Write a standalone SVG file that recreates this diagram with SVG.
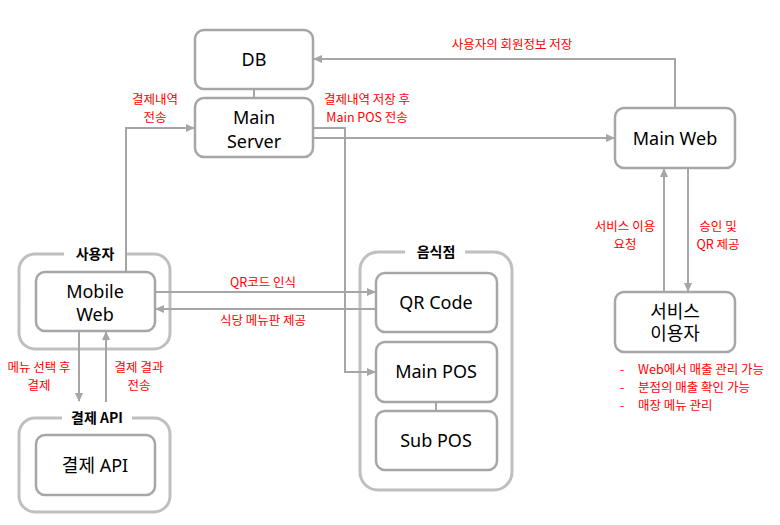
<svg xmlns="http://www.w3.org/2000/svg" width="780" height="525" viewBox="0 0 780 525">
<defs>
<marker id="ah" markerWidth="9" markerHeight="8" refX="8" refY="4" orient="auto" markerUnits="userSpaceOnUse">
<path d="M0,0 L9,4 L0,8 Z" fill="#a6a6a6"/>
</marker>
<style>
.grp{fill:none;stroke:#bfbfbf;stroke-width:3}
.box{fill:#fff;stroke:#a6a6a6;stroke-width:2.5}
.ln{fill:none;stroke:#a6a6a6;stroke-width:2}
.arr{fill:none;stroke:#a6a6a6;stroke-width:2;marker-end:url(#ah)}
.t{font-family:"Noto Sans","Noto Sans CJK KR",sans-serif;font-size:18px;fill:#000;text-anchor:middle}
.title{font-family:"Noto Sans CJK KR","Noto Sans",sans-serif;font-size:14px;font-weight:bold;fill:#000;text-anchor:middle}
.lbl{font-family:"Noto Sans CJK KR","Noto Sans",sans-serif;font-size:12.5px;fill:#ff0000;text-anchor:middle}
.lst{font-family:"Noto Sans CJK KR","Noto Sans",sans-serif;font-size:12.5px;fill:#ff0000}
</style>
</defs>
<rect width="780" height="525" fill="#fff"/>

<g id="grp-user">
<rect class="grp" x="19" y="254" width="151" height="95" rx="16"/>
<rect x="64" y="245" width="61" height="18" fill="#fff"/>
<text class="title" x="95" y="259">사용자</text>
</g>
<g id="grp-pay">
<rect class="grp" x="19" y="418" width="151" height="94" rx="16"/>
<rect x="62" y="409" width="70" height="18" fill="#fff"/>
<text class="title" x="97" y="423">결제 API</text>
</g>
<g id="grp-rest">
<rect class="grp" x="360" y="252" width="152" height="238" rx="18"/>
<rect x="405" y="243" width="60" height="18" fill="#fff"/>
<text class="title" x="436" y="257">음식점</text>
</g>

<g id="connectors">
<line class="ln" x1="254" y1="89" x2="254" y2="98"/>
<line class="ln" x1="436" y1="402" x2="436" y2="411"/>
<polyline class="arr" points="126,272 126,128 194,128"/>
<polyline class="arr" points="313,128 345,128 345,372 375,372"/>
<line class="arr" x1="313" y1="138" x2="614" y2="138"/>
<polyline class="arr" points="675,108 675,59 314,59"/>
<line class="arr" x1="664" y1="292" x2="664" y2="169"/>
<line class="arr" x1="688" y1="168" x2="688" y2="291"/>
<line class="arr" x1="155" y1="292" x2="375" y2="292"/>
<line class="arr" x1="376" y1="309" x2="156" y2="309"/>
<line class="arr" x1="79" y1="331" x2="79" y2="401"/>
<line class="arr" x1="106" y1="402" x2="106" y2="332"/>
</g>

<g id="labels">
<text class="lbl" x="512" y="49">사용자의 회원정보 저장</text>
<text class="lbl" x="155" y="104">결제내역</text>
<text class="lbl" x="155" y="122">전송</text>
<text class="lbl" x="367" y="104">결제내역 저장 후</text>
<text class="lbl" x="367" y="122">Main POS 전송</text>
<text class="lbl" x="625" y="231">서비스 이용</text>
<text class="lbl" x="625" y="249">요청</text>
<text class="lbl" x="718" y="231">승인 및</text>
<text class="lbl" x="718" y="249">QR 제공</text>
<text class="lbl" x="263" y="287">QR코드 인식</text>
<text class="lbl" x="263" y="325">식당 메뉴판 제공</text>
<text class="lbl" x="39" y="372">메뉴 선택 후</text>
<text class="lbl" x="39" y="390">결제</text>
<text class="lbl" x="139" y="372">결제 결과</text>
<text class="lbl" x="139" y="390">전송</text>
<text class="lst" x="620" y="374">-</text>
<text class="lst" x="638" y="374">Web에서 매출 관리 가능</text>
<text class="lst" x="620" y="392">-</text>
<text class="lst" x="638" y="392">분점의 매출 확인 가능</text>
<text class="lst" x="620" y="410">-</text>
<text class="lst" x="638" y="410">매장 메뉴 관리</text>
</g>

<g id="db"><rect class="box" x="195" y="30" width="118" height="59" rx="9"/><text class="t" x="254" y="66">DB</text></g>
<g id="main-server"><rect class="box" x="195" y="98" width="118" height="59" rx="9"/><text class="t" x="254" y="124">Main</text><text class="t" x="254" y="148">Server</text></g>
<g id="main-web"><rect class="box" x="615" y="108" width="120" height="60" rx="9"/><text class="t" x="675" y="145">Main Web</text></g>
<g id="service-user"><rect class="box" x="615" y="292" width="120" height="60" rx="9"/><text class="t" x="675" y="318">서비스</text><text class="t" x="675" y="340">이용자</text></g>
<g id="mobile-web"><rect class="box" x="36" y="272" width="119" height="59" rx="9"/><text class="t" x="95" y="298">Mobile</text><text class="t" x="95" y="321">Web</text></g>
<g id="pay-api"><rect class="box" x="36" y="435" width="119" height="60" rx="9"/><text class="t" x="95" y="472">결제 API</text></g>
<g id="qr-code"><rect class="box" x="376" y="273" width="121" height="59" rx="9"/><text class="t" x="436" y="309">QR Code</text></g>
<g id="main-pos"><rect class="box" x="376" y="342" width="121" height="60" rx="9"/><text class="t" x="436" y="378">Main POS</text></g>
<g id="sub-pos"><rect class="box" x="376" y="411" width="121" height="59" rx="9"/><text class="t" x="436" y="447">Sub POS</text></g>
</svg>
